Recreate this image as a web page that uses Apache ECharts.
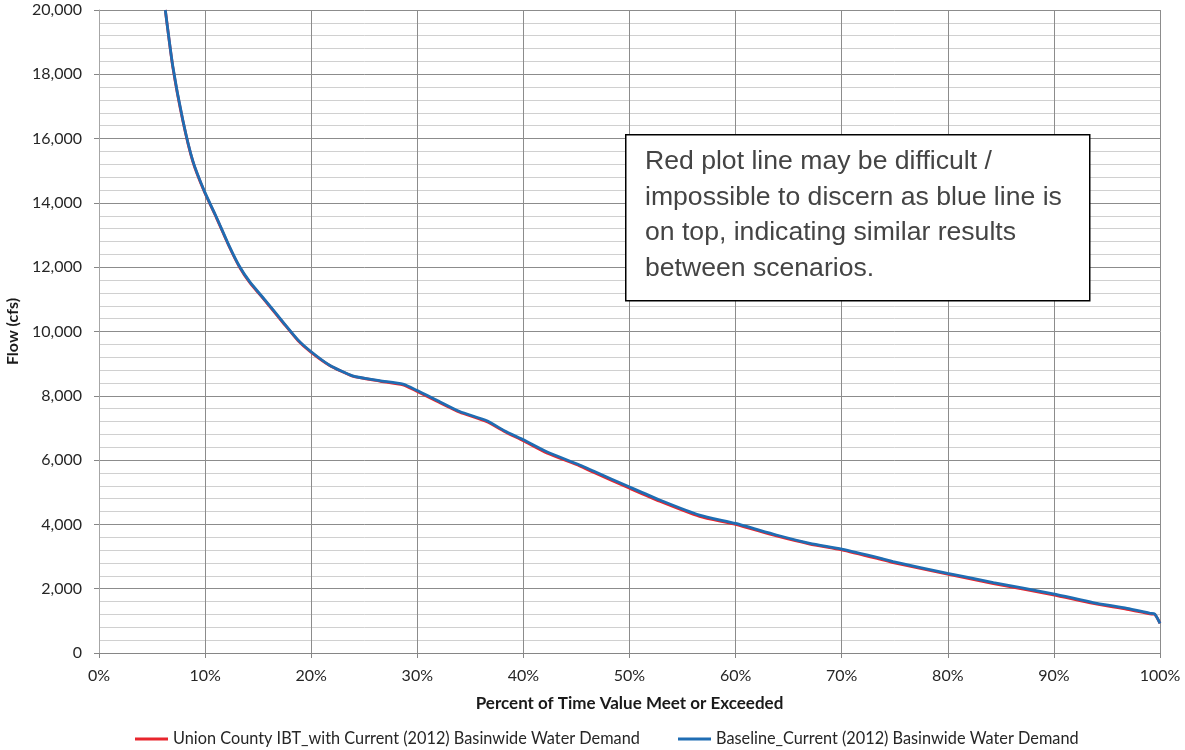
<!DOCTYPE html>
<html>
<head>
<meta charset="utf-8">
<title>Flow Duration Curve</title>
<script src="https://cdn.jsdelivr.net/npm/echarts@6/dist/echarts.min.js"></script>
<style>
  html, body { margin: 0; padding: 0; background: #ffffff; }
  #chart { width: 1185px; height: 750px; }
</style>
</head>
<body>
<div id="chart"></div>
<script>
// Percent of time a flow value is met or exceeded
const pct = [6.25, 6.96, 7.9, 8.85, 9.95, 11.05, 12.3, 13.25, 14.2, 15.77, 17.33, 18.75, 20.0, 21.7,
  23.9, 26.45, 28.65, 29.9, 31.8, 34.0, 36.5, 38.4, 40.0, 42.2, 45.3, 46.6, 49.96, 52.85, 56.6,
  60.0, 63.85, 67.0, 70.0, 73.6, 74.85, 79.98, 84.3, 89.94, 93.7, 96.9, 99.06, 99.5, 100];

// Flow (cfs), Baseline_Current (2012) scenario
const baselineFlow = [20000, 18240, 16580, 15300, 14350, 13570, 12640, 12020, 11550, 10930, 10300, 9740,
  9370, 8960, 8620, 8470, 8360, 8180, 7870, 7510, 7230, 6880, 6630, 6260, 5850, 5660, 5170, 4760, 4290,
  4030, 3670, 3410, 3230, 2950, 2840, 2480, 2190, 1840, 1570, 1390, 1235, 1215, 925];

// Flow (cfs), Union County IBT scenario
const unionFlow = [20000, 18220, 16560, 15280, 14330, 13550, 12620, 12000, 11530, 10910, 10280, 9720,
  9350, 8950, 8610, 8460, 8340, 8150, 7840, 7490, 7200, 6860, 6600, 6220, 5820, 5620, 5130, 4720, 4250,
  4000, 3640, 3390, 3210, 2920, 2810, 2450, 2160, 1810, 1540, 1360, 1215, 1200, 925];

const seriesNames = [
  'Union County IBT_with Current (2012) Basinwide Water Demand',
  'Baseline_Current (2012) Basinwide Water Demand'
];

const noteLines = [
  'Red plot line may be difficult /',
  'impossible to discern as blue line is',
  'on top, indicating similar results',
  'between scenarios.'
];

const toPairs = (xs, ys) => xs.map((x, i) => [x, ys[i]]);

const labelFont = { fontFamily: 'Lato', fontSize: 16, color: '#262626' };
const legendText = { fontFamily: 'Lato', fontSize: 16.3, color: '#262626' };

const chart = echarts.init(document.getElementById('chart'), null, { renderer: 'canvas' });

chart.setOption({
  backgroundColor: '#ffffff',
  animation: false,
  grid: { left: 99, right: 25, top: 10, bottom: 97, containLabel: false, outerBoundsMode: 'none' },
  xAxis: {
    type: 'value',
    min: 0, max: 100, interval: 10,
    name: 'Percent of Time Value Meet or Exceeded',
    nameLocation: 'middle',
    nameGap: 42,
    nameTextStyle: { fontFamily: 'Lato', fontWeight: 'bold', fontSize: 17, color: '#1a1a1a' },
    axisLine: { show: true, lineStyle: { color: '#868686', width: 1 } },
    axisTick: { show: true, length: 5, lineStyle: { color: '#868686' } },
    axisLabel: Object.assign({ formatter: '{value}%', margin: 15 }, labelFont),
    splitLine: { show: true, lineStyle: { color: '#8c8c8c', width: 1 } }
  },
  yAxis: {
    type: 'value',
    min: 0, max: 20000, interval: 2000,
    name: 'Flow (cfs)',
    nameLocation: 'middle',
    nameRotate: 90,
    nameGap: 69,
    nameTextStyle: { fontFamily: 'Lato', fontWeight: 'bold', fontSize: 16, color: '#1a1a1a' },
    axisLine: { show: true, lineStyle: { color: '#a6a6a6', width: 1 } },
    axisTick: { show: true, length: 5, lineStyle: { color: '#868686' } },
    axisLabel: Object.assign({
      margin: 17,
      formatter: v => v.toLocaleString('en-US')
    }, labelFont),
    minorTick: { show: false, splitNumber: 5 },
    splitLine: { show: true, lineStyle: { color: '#8c8c8c', width: 1 } },
    minorSplitLine: { show: true, lineStyle: { color: '#d0d0d0', width: 1 } }
  },
  legend: [
    {
      data: [seriesNames[0]], left: 130, top: 726,
      icon: 'rect', itemWidth: 33, itemHeight: 3, selectedMode: false,
      textStyle: legendText
    },
    {
      data: [seriesNames[1]], left: 673, top: 726,
      icon: 'rect', itemWidth: 33, itemHeight: 3, selectedMode: false,
      textStyle: legendText
    }
  ],
  series: [
    {
      name: seriesNames[0],
      type: 'line',
      data: toPairs(pct, unionFlow),
      showSymbol: false,
      smooth: 0.2,
      color: '#e8252d',
      lineStyle: { color: '#e8252d', width: 2.8 },
      z: 2
    },
    {
      name: seriesNames[1],
      type: 'line',
      data: toPairs(pct, baselineFlow),
      showSymbol: false,
      smooth: 0.2,
      color: '#1f6db3',
      lineStyle: { color: '#1f6db3', width: 2.8 },
      z: 3
    }
  ],
  graphic: [
    {
      type: 'rect',
      left: 625, top: 134,
      shape: { width: 464, height: 166 },
      style: { fill: '#ffffff', stroke: '#000000', lineWidth: 1.5 },
      z: 100
    },
    {
      type: 'text',
      left: 645, top: 144,
      style: {
        text: noteLines.join('\n'),
        font: '26.6px "Liberation Sans", Arial, sans-serif',
        fill: '#444444',
        lineHeight: 35.5
      },
      z: 101
    }
  ]
});
</script>
</body>
</html>
